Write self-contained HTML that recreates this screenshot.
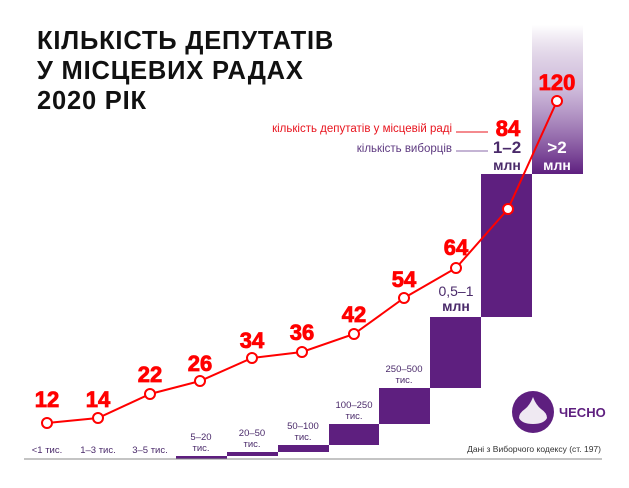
<!DOCTYPE html>
<html><head><meta charset="utf-8"><style>
body{margin:0;background:#fff;}
svg text{font-family:"Liberation Sans",sans-serif;}
</style></head><body>
<svg width="629" height="483" viewBox="0 0 629 483" xmlns="http://www.w3.org/2000/svg">
<defs><linearGradient id="g" x1="0" y1="0" x2="0" y2="1">
<stop offset="0" stop-color="#5e1f7f" stop-opacity="0"/>
<stop offset="0.4" stop-color="#9a72b4" stop-opacity="0.45"/>
<stop offset="1" stop-color="#5e1f7f"/></linearGradient></defs>
<g font-weight="bold" font-size="25.5" fill="#111" letter-spacing="0.8">
<text x="37" y="49">КІЛЬКІСТЬ ДЕПУТАТІВ</text>
<text x="37" y="79">У МІСЦЕВИХ РАДАХ</text>
<text x="37" y="109">2020 РІК</text>
</g>
<rect x="532" y="25" width="51" height="149" fill="url(#g)"/>
<g fill="#5e1f7f">
<rect x="176" y="456" width="51" height="3"/>
<rect x="227" y="452" width="51" height="4"/>
<rect x="278" y="445" width="51" height="7"/>
<rect x="329" y="424" width="50" height="21"/>
<rect x="379" y="388" width="51" height="36"/>
<rect x="430" y="317" width="51" height="71"/>
<rect x="481" y="174" width="51" height="143"/>
</g>
<line x1="24" y1="459" x2="602" y2="459" stroke="#888" stroke-width="1"/>
<g font-size="9.5" fill="#4a2a6a" text-anchor="middle">
<text x="47" y="453">&lt;1 тис.</text>
<text x="98" y="453">1–3 тис.</text>
<text x="150" y="453">3–5 тис.</text>
<text x="201" y="440">5–20</text><text x="201" y="451">тис.</text>
<text x="252" y="436">20–50</text><text x="252" y="447">тис.</text>
<text x="303" y="429">50–100</text><text x="303" y="440">тис.</text>
<text x="354" y="408">100–250</text><text x="354" y="419">тис.</text>
<text x="404" y="372">250–500</text><text x="404" y="383">тис.</text>
</g>
<g font-size="14" fill="#4a2a6a" text-anchor="middle">
<text x="456" y="296">0,5–1</text><text x="456" y="311" font-weight="bold">млн</text>
<text x="507" y="153" font-size="17" font-weight="bold">1–2</text><text x="507" y="170" font-weight="bold">млн</text>
</g>
<g font-size="16" fill="#fff" text-anchor="middle" font-weight="bold">
<text x="557" y="153" font-size="17">&gt;2</text><text x="557" y="170" font-size="14">млн</text>
</g>
<text x="452" y="132" font-size="11.5" fill="#e8141e" text-anchor="end">кількість депутатів у місцевій раді</text>
<line x1="456" y1="132" x2="488" y2="132" stroke="#e8141e" stroke-width="1"/>
<text x="452" y="152" font-size="11.5" fill="#5e3a80" text-anchor="end">кількість виборців</text>
<line x1="456" y1="151" x2="488" y2="151" stroke="#8a6aa8" stroke-width="1"/>
<polyline fill="none" stroke="#f00" stroke-width="2" points="47,423 98,418 150,394 200,381 252,358 302,352 354,334 404,298 456,268 508,209 557,101"/>
<g fill="#fff" stroke="#f00" stroke-width="2">
<circle cx="47" cy="423" r="5"/><circle cx="98" cy="418" r="5"/><circle cx="150" cy="394" r="5"/><circle cx="200" cy="381" r="5"/><circle cx="252" cy="358" r="5"/><circle cx="302" cy="352" r="5"/><circle cx="354" cy="334" r="5"/><circle cx="404" cy="298" r="5"/><circle cx="456" cy="268" r="5"/><circle cx="508" cy="209" r="5"/><circle cx="557" cy="101" r="5"/>
</g>
<g font-size="22" font-weight="bold" fill="#f00" text-anchor="middle" stroke="#f00" stroke-width="0.8">
<text x="47" y="407">12</text><text x="98" y="407">14</text><text x="150" y="382">22</text><text x="200" y="371">26</text><text x="252" y="348">34</text><text x="302" y="340">36</text><text x="354" y="322">42</text><text x="404" y="287">54</text><text x="456" y="255">64</text><text x="508" y="136">84</text><text x="557" y="90">120</text>
</g>
<circle cx="533" cy="412" r="21" fill="#5e1f7f"/>
<path d="M533 397 q-3 8 -8 12 q-6 4 -6 9 q3 6 14 6 q11 0 14 -6 q0 -5 -6 -9 q-5 -4 -8 -12z" fill="#fff" opacity="0.9"/>
<text x="559" y="417" font-size="13" font-weight="bold" fill="#5e1f7f">ЧЕСНО</text>
<text x="601" y="452" font-size="8.5" fill="#333" text-anchor="end">Дані з Виборчого кодексу (ст. 197)</text>
</svg>
</body></html>
